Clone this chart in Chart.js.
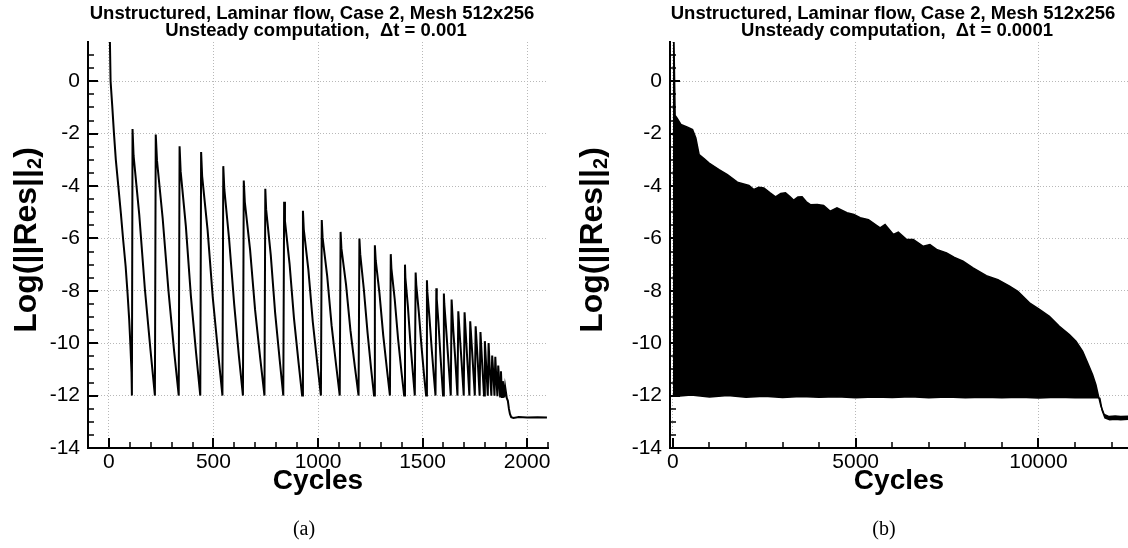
<!DOCTYPE html>
<html lang="en">
<head>
<meta charset="UTF-8">
<title>Residual history, Case 2</title>
<style>
  body { margin: 0; background: #fff; }
  canvas { position: absolute; top: 0; }
  #chartA { left: 0; }
  #chartB { left: 560px; }
</style>
<script src="https://cdn.jsdelivr.net/npm/chart.js"></script>
</head>
<body>
<canvas id="chartA" width="560" height="548"></canvas>
<canvas id="chartB" width="568" height="548"></canvas>
<script>
// ---- (a) dt = 0.001 : residual history, one line per sub-iteration cycle ----
const cyclesA = [
  0, 8, 16, 24, 33, 45, 57, 68, 80, 89, 97, 103, 108, 110,
  113, 118, 145, 172, 199, 220,
  224, 230, 257, 285, 312, 334,
  338, 343, 368, 392, 417, 437,
  441, 446, 472, 497, 523, 543,
  547, 552, 575, 599, 622, 641,
  645, 650, 675, 699, 724, 744,
  748, 752, 774, 795, 817, 834,
  838, 842, 864, 885, 907, 924,
  928, 932, 954, 975, 997, 1014,
  1018, 1022, 1044, 1065, 1087, 1104,
  1108, 1112, 1134, 1155, 1177, 1194,
  1198, 1202, 1219, 1237, 1254, 1268,
  1272, 1276, 1294, 1312, 1330, 1344,
  1348, 1351, 1367, 1383, 1399, 1412,
  1416, 1418, 1430, 1442, 1454, 1463,
  1467, 1470, 1482, 1495, 1507, 1517,
  1521, 1523, 1533, 1544, 1554, 1562,
  1566, 1568, 1576, 1585, 1598,
  1602, 1604, 1612, 1622, 1635,
  1639, 1647, 1656, 1667,
  1671, 1679, 1687, 1697,
  1701, 1709, 1716, 1724,
  1728, 1737, 1750,
  1754, 1762, 1773,
  1777, 1784, 1794,
  1798, 1804, 1812,
  1816, 1821, 1829,
  1833, 1838, 1844,
  1848, 1852, 1858,
  1862, 1871,
  1875, 1880,
  1884, 1891,
  1895, 1903,
  1908, 1913, 1918, 1924, 1935, 1960, 2000, 2050, 2095
];
const resA = [
  3.8, 0, -0.95, -1.97, -2.99, -4.0, -5.02, -6.04, -7.06, -8.08, -9.1, -10.1, -11.1, -12,
  -1.82, -2.84, -5.08, -7.93, -10.27, -12,
  -2.03, -3.03, -5.22, -8.01, -10.31, -12,
  -2.48, -3.43, -5.53, -8.19, -10.38, -12,
  -2.70, -3.63, -5.68, -8.28, -10.42, -12,
  -3.24, -4.12, -6.04, -8.50, -10.51, -12,
  -3.79, -4.61, -6.42, -8.72, -10.60, -12,
  -4.10, -4.89, -6.63, -8.84, -10.66, -12,
  -4.60, -5.34, -6.97, -9.04, -10.74, -12,
  -4.94, -5.65, -7.20, -9.18, -10.80, -12,
  -5.30, -5.97, -7.44, -9.32, -10.86, -12,
  -5.75, -6.38, -7.75, -9.50, -10.94, -12,
  -6.00, -6.60, -7.92, -9.60, -10.98, -12,
  -6.26, -6.83, -8.10, -9.70, -11.02, -12,
  -6.60, -7.14, -8.33, -9.84, -11.08, -12,
  -7.00, -7.50, -8.60, -10.00, -11.15, -12,
  -7.30, -7.77, -8.80, -10.12, -11.20, -12,
  -7.60, -8.04, -9.01, -10.24, -11.25, -12,
  -7.90, -8.31, -9.21, -10.40, -12,
  -8.10, -8.49, -9.35, -10.50, -12,
  -8.33, -9.50, -10.55, -12,
  -8.78, -9.81, -10.75, -12,
  -8.82, -9.95, -10.90, -12,
  -9.16, -10.30, -12,
  -9.35, -10.40, -12,
  -9.57, -10.60, -12,
  -9.92, -10.80, -12,
  -9.99, -10.90, -12,
  -10.47, -11.10, -12,
  -10.52, -11.20, -12.02,
  -10.85, -12.03,
  -11.07, -12.05,
  -11.45, -12.07,
  -11.66, -12.10,
  -12.2, -12.5, -12.7, -12.82, -12.85, -12.82, -12.84, -12.83, -12.84
];

// ---- (b) dt = 0.0001 : oscillations too dense to resolve, drawn as their envelope ----
const cyclesBUp = [0, 60, 109, 218, 400, 537, 627, 717, 850, 990, 1262, 1490, 1763, 2080, 2215, 2350,
  2488, 2650, 2807, 2950, 3079, 3200, 3306, 3420, 3534, 3650, 3760, 3950, 4123, 4305, 4488, 4620,
  4760, 4950, 5123, 5350, 5520, 5668, 5804, 6031, 6167, 6395, 6576, 6848, 7030, 7212, 7485, 7700,
  7937, 8210, 8575, 8890, 9210, 9436, 9755, 10027, 10300, 10572, 10845, 11027, 11210, 11345, 11480,
  11572, 11643, 11708, 11798, 11935, 12100, 12250, 12450];
const resBUp = [4.0, -1.3, -1.40, -1.65, -1.75, -1.84, -2.16, -2.80, -2.95, -3.12, -3.37, -3.56, -3.85, -3.98, -4.13, -4.05,
  -4.07, -4.25, -4.41, -4.28, -4.26, -4.40, -4.54, -4.42, -4.41, -4.60, -4.71, -4.70, -4.74, -4.96, -4.83, -4.92,
  -5.02, -5.08, -5.21, -5.28, -5.45, -5.60, -5.47, -5.85, -5.76, -6.04, -6.04, -6.30, -6.23, -6.42, -6.55, -6.72,
  -6.87, -7.12, -7.42, -7.57, -7.82, -8.02, -8.46, -8.71, -8.97, -9.35, -9.67, -9.92, -10.31, -10.75, -11.19,
  -11.58, -12.02, -12.40, -12.72, -12.80, -12.78, -12.80, -12.79];
const cyclesBLo = [0, 109, 500, 1000, 1500, 2000, 2500, 3000, 3500, 4000, 4500, 5000, 5500, 6000, 6500, 7000,
  7500, 8000, 8500, 9000, 9500, 10000, 10500, 11000, 11600, 11680, 11740, 11820, 11950, 12100, 12250, 12450];
const resBLo = [-11.95, -12.02, -11.98, -12.05, -12.00, -12.06, -12.02, -12.07, -12.03, -12.06, -12.04, -12.08, -12.05, -12.07, -12.04, -12.08,
  -12.05, -12.08, -12.06, -12.08, -12.06, -12.09, -12.06, -12.08, -12.07, -12.10, -12.55, -12.85, -12.92, -12.90, -12.92, -12.90];

// ---- axes ----
const yMajor = [-14, -12, -10, -8, -6, -4, -2, 0];
const yMinor = [1, 0.5, -0.5, -1, -1.5, -2.5, -3, -3.5, -4.5, -5, -5.5, -6.5, -7, -7.5,
  -8.5, -9, -9.5, -10.5, -11, -11.5, -12.5, -13, -13.5];
const xMajorA = [0, 500, 1000, 1500, 2000];
const xMinorA = [100, 200, 300, 400, 600, 700, 800, 900, 1100, 1200, 1300, 1400, 1600, 1700, 1800, 1900, 2100];
const xMajorB = [0, 5000, 10000];
const xMinorB = [1000, 2000, 3000, 4000, 6000, 7000, 8000, 9000, 11000, 12000];

const SANS = '"Liberation Sans", Arial, Helvetica, sans-serif';
const SERIF = '"Liberation Serif", "Times New Roman", serif';

const toPoints = (xs, ys) => xs.map((x, i) => ({ x: x, y: ys[i] }));

// Tecplot-style tick marks: pointing into the plot, long for major, short for minor
const tickMarks = {
  id: 'tickMarks',
  afterDatasetsDraw(chart, args, o) {
    const { ctx, chartArea: a, scales: { x, y } } = chart;
    ctx.save();
    ctx.strokeStyle = '#000';
    const draw = (vals, len, w, horiz) => {
      ctx.lineWidth = w;
      ctx.beginPath();
      vals.forEach(v => {
        if (horiz) {
          const px = Math.round(x.getPixelForValue(v));
          ctx.moveTo(px, a.bottom); ctx.lineTo(px, a.bottom - len);
        } else {
          const py = Math.round(y.getPixelForValue(v));
          ctx.moveTo(a.left, py); ctx.lineTo(a.left + len, py);
        }
      });
      ctx.stroke();
    };
    draw(o.xMajor, 10, 2, true);
    draw(o.xMinor, 6, 1.5, true);
    draw(yMajor, 10, 2, false);
    draw(yMinor, 6, 1.5, false);
    ctx.restore();
  }
};

// titles, axis titles (with subscript) and the (a)/(b) captions
const labels = {
  id: 'labels',
  afterDraw(chart, args, o) {
    const { ctx, chartArea: a } = chart;
    const cx = (a.left + a.right) / 2;
    ctx.save();
    ctx.fillStyle = '#000';
    ctx.textAlign = 'center';
    ctx.textBaseline = 'alphabetic';
    ctx.font = 'bold 18.5px ' + SANS;
    ctx.fillText(o.title[0], cx - 6, 19);
    ctx.fillText(o.title[1], cx - 2, 36);
    ctx.font = 'bold 28px ' + SANS;
    ctx.fillText('Cycles', cx, 489);
    ctx.font = '20px ' + SERIF;
    ctx.fillText(o.caption, o.captionX, 535);

    // Log(||Res||2) rotated
    ctx.translate(o.yTitleX, (a.top + a.bottom) / 2 - 5);
    ctx.rotate(-Math.PI / 2);
    ctx.textAlign = 'left';
    ctx.textBaseline = 'middle';
    const big = 'bold 32px ' + SANS, small = 'bold 20px ' + SANS;
    ctx.font = big;
    const w1 = ctx.measureText('Log(||Res||').width;
    const w3 = ctx.measureText(')').width;
    ctx.font = small;
    const w2 = ctx.measureText('2').width;
    let s = -(w1 + w2 + w3) / 2;
    ctx.font = big;
    ctx.fillText('Log(||Res||', s, 0);
    ctx.font = small;
    ctx.fillText('2', s + w1, 8);
    ctx.font = big;
    ctx.fillText(')', s + w1 + w2, 0);
    ctx.restore();
  }
};

function axes(xMin, xMax, xMajor, yWidth) {
  const grid = { color: '#b8b8b8', lineWidth: 1, drawTicks: false };
  const border = { color: '#000', width: 2, dash: [1, 2] };
  const tickFont = { family: SANS, size: 21 };
  return {
    x: {
      type: 'linear', min: xMin, max: xMax,
      afterBuildTicks: s => { s.ticks = xMajor.map(v => ({ value: v })); },
      afterFit: s => { s.height = 100; },
      ticks: { callback: v => String(v), color: '#000', font: tickFont, padding: 2, maxRotation: 0, autoSkip: false },
      grid: grid, border: border
    },
    y: {
      type: 'linear', min: -14, max: 1.5,
      afterBuildTicks: s => { s.ticks = yMajor.map(v => ({ value: v })); },
      afterFit: s => { s.width = yWidth; },
      ticks: { callback: v => String(v), color: '#000', font: tickFont, padding: 8, autoSkip: false },
      grid: grid, border: border
    }
  };
}

function baseOptions(padRight, xMin, xMax, xMajor, yWidth) {
  return {
    responsive: false,
    animation: false,
    events: [],
    layout: { padding: { top: 42, right: padRight, bottom: 0, left: 0 } },
    scales: axes(xMin, xMax, xMajor, yWidth)
  };
}

// (a)
const optA = baseOptions(12, -100, 2100, xMajorA, 88);
optA.plugins = {
  legend: { display: false }, tooltip: { enabled: false },
  tickMarks: { xMajor: xMajorA, xMinor: xMinorA },
  labels: {
    title: ['Unstructured, Laminar flow, Case 2, Mesh 512x256', 'Unsteady computation,  \u0394t = 0.001'],
    caption: '(a)', captionX: 304, yTitleX: 27
  }
};
new Chart(document.getElementById('chartA'), {
  type: 'line',
  data: {
    datasets: [{
      data: toPoints(cyclesA, resA),
      borderColor: '#000', borderWidth: 2, pointRadius: 0, tension: 0, fill: false
    }]
  },
  options: optA,
  plugins: [tickMarks, labels]
});

// (b)
const optB = baseOptions(0, -80, 12450, xMajorB, 110);
optB.plugins = {
  legend: { display: false }, tooltip: { enabled: false },
  tickMarks: { xMajor: xMajorB, xMinor: xMinorB },
  labels: {
    title: ['Unstructured, Laminar flow, Case 2, Mesh 512x256', 'Unsteady computation,  \u0394t = 0.0001'],
    caption: '(b)', captionX: 324, yTitleX: 33
  }
};
new Chart(document.getElementById('chartB'), {
  type: 'line',
  data: {
    datasets: [
      {
        data: toPoints(cyclesBUp, resBUp),
        borderColor: '#000', borderWidth: 1.5, backgroundColor: '#000',
        pointRadius: 0, tension: 0, fill: '+1'
      },
      {
        data: toPoints(cyclesBLo, resBLo),
        borderColor: '#000', borderWidth: 1.5, pointRadius: 0, tension: 0, fill: false
      }
    ]
  },
  options: optB,
  plugins: [tickMarks, labels]
});
</script>
</body>
</html>
